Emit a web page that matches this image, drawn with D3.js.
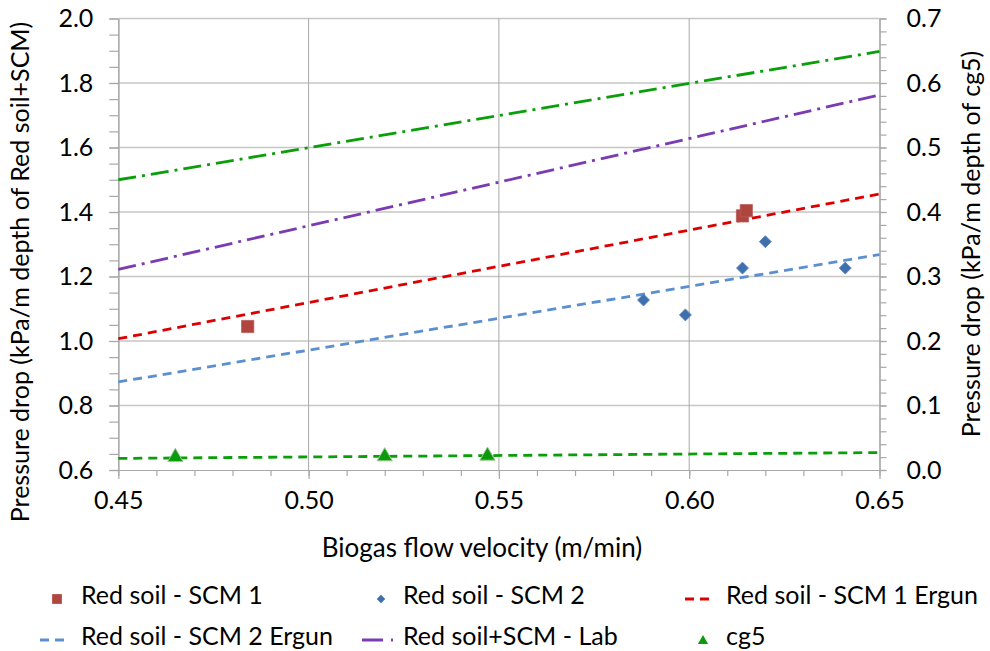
<!DOCTYPE html>
<html><head><meta charset="utf-8">
<script src="https://cdn.jsdelivr.net/npm/d3@7"></script>
<style>
html,body{margin:0;padding:0;background:#fff;}
svg text{font-family:Lato,"Open Sans",sans-serif;fill:#000;}
</style></head>
<body><svg id="chart" width="990" height="651"></svg>
<script>
// ---- data ----
const scm1Velocity = [0.484, 0.614, 0.615];
const scm1Drop = [1.045, 1.388, 1.404];
const scm2Velocity = [0.588, 0.599, 0.614, 0.620, 0.641];
const scm2Drop = [1.127, 1.081, 1.226, 1.308, 1.226];
const cg5Velocity = [0.465, 0.520, 0.547];
const cg5Drop = [0.020, 0.021, 0.022];
const lineVelocity = [0.45, 0.65];
const scm1Ergun = [1.007, 1.456];
const scm2Ergun = [0.873, 1.268];
const labDrop = [1.222, 1.763];
const greenDashDot = [1.500, 1.898];
const cg5Ergun = [0.018, 0.027];
const xTicks = [0.45, 0.50, 0.55, 0.60, 0.65];
const yLeftTicks = [0.6, 0.8, 1.0, 1.2, 1.4, 1.6, 1.8, 2.0];
const yRightTicks = [0.0, 0.1, 0.2, 0.3, 0.4, 0.5, 0.6, 0.7];
const legendNames = ["Red soil - SCM 1", "Red soil - SCM 2", "Red soil - SCM 1 Ergun",
                     "Red soil - SCM 2 Ergun", "Red soil+SCM - Lab", "cg5"];
const xTitle = "Biogas flow velocity (m/min)";
const yLeftTitle = "Pressure drop (kPa/m depth of Red soil+SCM)";
const yRightTitle = "Pressure drop (kPa/m depth of cg5)";

// ---- layout ----
const svg = d3.select("#chart");
const L = 118.3, R = 879.5, T = 18.5, B = 470;
const x = d3.scaleLinear().domain([0.45, 0.65]).range([L, R]);
const yL = d3.scaleLinear().domain([0.6, 2.0]).range([B, T]);
const yR = d3.scaleLinear().domain([0, 0.7]).range([B, T]);
const FS = 25;

// gridlines
const g = svg.append("g");
g.selectAll(".hg").data(yLeftTicks.slice(1)).join("line")
  .attr("x1", L).attr("x2", R).attr("y1", d => yL(d)).attr("y2", d => yL(d))
  .attr("stroke", "#c6c6c6").attr("stroke-width", 1.5);
g.selectAll(".vg").data(xTicks.slice(1, -1)).join("line")
  .attr("x1", d => x(d)).attr("x2", d => x(d)).attr("y1", T).attr("y2", B)
  .attr("stroke", "#a8a8a8").attr("stroke-width", 1);

function styleAxis(sel) {
  sel.selectAll("path").attr("stroke", "#a8a8a8").attr("stroke-width", 1.2);
  sel.selectAll("line").attr("stroke", "#a8a8a8").attr("stroke-width", 1.2);
  sel.selectAll("text").style("font-size", FS + "px").attr("fill", "#000");
}

// axes (minor then major)
const xMinor = d3.range(45, 66).map(v => v / 100);
svg.append("g").attr("transform", `translate(0,${B})`)
  .call(d3.axisBottom(x).tickValues(xMinor).tickSize(6).tickFormat("").tickSizeOuter(0)).call(styleAxis);
svg.append("g").attr("transform", `translate(0,${B})`)
  .call(d3.axisBottom(x).tickValues(xTicks).tickSize(9).tickPadding(12).tickFormat(d3.format(".2f")).tickSizeOuter(0))
  .call(styleAxis);

const yLMinor = d3.range(12, 41).map(v => v * 0.05);
svg.append("g").attr("transform", `translate(${L},0)`)
  .call(d3.axisLeft(yL).tickValues(yLMinor).tickSize(9).tickFormat("").tickSizeOuter(0)).call(styleAxis);
svg.append("g").attr("transform", `translate(${L},0)`)
  .call(d3.axisLeft(yL).tickValues(yLeftTicks).tickSize(9).tickPadding(16).tickFormat(d3.format(".1f")).tickSizeOuter(0))
  .call(styleAxis);

const yRMinor = d3.range(0, 36).map(v => v * 0.02);
svg.append("g").attr("transform", `translate(${R},0)`)
  .call(d3.axisRight(yR).tickValues(yRMinor).tickSize(7).tickFormat("").tickSizeOuter(0)).call(styleAxis);
svg.append("g").attr("transform", `translate(${R},0)`)
  .call(d3.axisRight(yR).tickValues(yRightTicks).tickSize(7).tickPadding(20).tickFormat(d3.format(".1f")).tickSizeOuter(0))
  .call(styleAxis);

// titles
svg.append("text").attr("x", 482).attr("y", 550).attr("text-anchor", "middle")
  .attr("dominant-baseline", "middle").style("font-size", "26px").text(xTitle);
svg.append("text").attr("transform", "translate(23,272) rotate(-90)").attr("text-anchor", "middle")
  .attr("dominant-baseline", "middle").style("font-size", FS + "px").text(yLeftTitle);
svg.append("text").attr("transform", "translate(974,244) rotate(-90)").attr("text-anchor", "middle")
  .attr("dominant-baseline", "middle").style("font-size", FS + "px").text(yRightTitle);

// lines
const series = [
  {v: greenDashDot, y: yL, color: "#0a9e0a", dash: "18,6,3,6"},
  {v: labDrop, y: yL, color: "#7a3cb0", dash: "18,6,3,6"},
  {v: scm1Ergun, y: yL, color: "#dd0000", dash: "9,6"},
  {v: scm2Ergun, y: yL, color: "#5b8fd0", dash: "9,6"},
  {v: cg5Ergun, y: yR, color: "#0a9e0a", dash: "9,6"}
];
const lineGen = (yS) => d3.line().x(d => x(d[0])).y(d => yS(d[1]));
series.forEach(s => {
  svg.append("path").datum(lineVelocity.map((v, i) => [v, s.v[i]]))
    .attr("d", lineGen(s.y)).attr("fill", "none").attr("stroke", s.color)
    .attr("stroke-width", 2.8).attr("stroke-dasharray", s.dash);
});

// markers
const sq = d3.symbol().type(d3.symbolSquare).size(150);
const dia = d3.symbol().type(d3.symbolSquare).size(72);
const tri = d3.symbol().type(d3.symbolTriangle).size(100);
svg.selectAll(".s1").data(scm1Velocity.map((v, i) => [v, scm1Drop[i]])).join("path")
  .attr("d", sq).attr("transform", d => `translate(${x(d[0])},${yL(d[1])})`)
  .attr("fill", "#b0443f").attr("stroke", "#b85c58").attr("stroke-width", 0.8);
svg.selectAll(".s2").data(scm2Velocity.map((v, i) => [v, scm2Drop[i]])).join("path")
  .attr("d", dia).attr("transform", d => `translate(${x(d[0])},${yL(d[1])}) rotate(45)`)
  .attr("fill", "#3f6fad").attr("stroke", "#5b85bf").attr("stroke-width", 0.8);
svg.selectAll(".s3").data(cg5Velocity.map((v, i) => [v, cg5Drop[i]])).join("path")
  .attr("d", tri).attr("transform", d => `translate(${x(d[0])},${yR(d[1])})`)
  .attr("fill", "#0b9a0b").attr("stroke", "#9bc88f").attr("stroke-width", 1);

// legend
const legendPos = [[57, 81, 599], [381, 403, 599], [699, 726, 599],
                   [54, 81, 640], [377, 403, 640], [703, 726, 640]];
const legendKind = ["sq", "dia", "dash", "dash", "dashdot", "tri"];
const legendColor = ["#b0443f", "#3f6fad", "#dd0000", "#5b8fd0", "#7a3cb0", "#0b9a0b"];
legendNames.forEach((name, i) => {
  const [cx, tx, cy] = legendPos[i];
  const k = legendKind[i], c = legendColor[i];
  if (k === "sq") svg.append("path").attr("d", d3.symbol().type(d3.symbolSquare).size(95)()).attr("transform", `translate(${cx},${cy})`).attr("fill", c);
  if (k === "dia") svg.append("path").attr("d", d3.symbol().type(d3.symbolSquare).size(36)()).attr("transform", `translate(${cx},${cy}) rotate(45)`).attr("fill", c);
  if (k === "tri") svg.append("path").attr("d", d3.symbol().type(d3.symbolTriangle).size(45)()).attr("transform", `translate(${cx},${cy + 1})`).attr("fill", c);
  if (k === "dash") svg.append("line").attr("x1", cx - 14).attr("x2", cx + 14).attr("y1", cy).attr("y2", cy)
    .attr("stroke", c).attr("stroke-width", 2.8).attr("stroke-dasharray", "9,6");
  if (k === "dashdot") svg.append("line").attr("x1", cx - 15).attr("x2", cx + 17).attr("y1", cy).attr("y2", cy)
    .attr("stroke", c).attr("stroke-width", 2.8).attr("stroke-dasharray", "21,8,2,8");
  svg.append("text").attr("x", tx).attr("y", cy - 1).attr("dominant-baseline", "middle")
    .style("font-size", FS + "px").text(name);
});
</script></body></html>
